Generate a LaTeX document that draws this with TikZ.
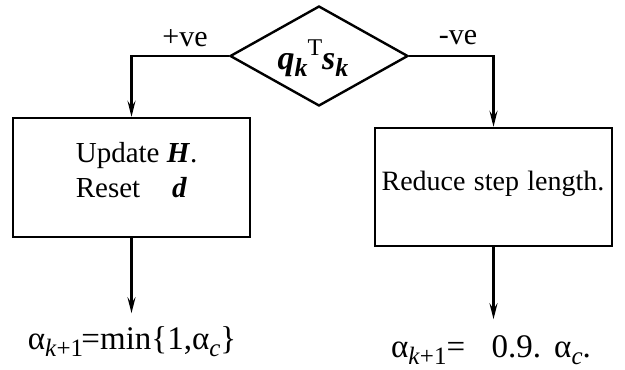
\documentclass[tikz,border=0pt]{standalone}
\usepackage{fontspec}
\setmainfont{Liberation Serif}
\usetikzlibrary{shapes.geometric,arrows.meta}
\newcommand{\bi}[1]{\textbf{\textit{#1}}}
\newcommand{\lowr}[2]{\raisebox{-0.45ex}{\fontsize{#1}{#1}\selectfont #2}}
\newcommand{\highr}[2]{\raisebox{0.9ex}{\fontsize{#1}{#1}\selectfont #2}}
\begin{document}
\begin{tikzpicture}[x=0.5pt,y=-0.5pt,
  line width=1.2pt,
  every node/.style={font=\fontsize{14.5}{17.5}\selectfont},
  big/.style={font=\fontsize{16.5}{19}\selectfont},
  lab/.style={font=\fontsize{15}{17}\selectfont},
  arr/.style={-{Stealth[length=8pt,width=4pt,inset=3pt]}},
  boxst/.style={draw,rectangle,minimum width=118.5pt,inner sep=0pt},
  dec/.style={draw,diamond,aspect=1.78,minimum width=89pt,minimum height=50pt,inner sep=0pt}]
\useasboundingbox (0,0) rectangle (625,369);
\node[dec] (d) at (319,56) {};
\node[font=\fontsize{17}{19}\selectfont] (dt) at (313,58) {\bi{q}\lowr{13}{\bi{k}}\highr{12}{T}\bi{s}\lowr{13}{\bi{k}}};
\node[lab] (pl) at (185,38) {+ve};
\node[lab] (mi) at (458,38) {-ve};
\node[boxst,minimum height=59.5pt] (lb) at (131.5,177.5) {};
\node[align=left,anchor=west] (lbt) at (68,170) {Update \bi{H}.\\Reset\hspace{1.1em}\bi{d}};
\node[boxst,minimum height=59pt] (rb) at (493.5,187) {};
\node[font=\fontsize{14}{17}\selectfont] (rbt) at (493,184) {Reduce\hspace{0.3em}step\hspace{0.3em}length.};
\node[big] (lt) at (132,342) {α\lowr{12.5}{\textit{k}+1}\hspace{-0.05em}=min\{1,α\lowr{12.5}{\textit{c}}\}};
\node[big] (rt) at (491,350) {α\lowr{12.5}{\textit{k}+1}=\hspace{0.8em}0.9.\hspace{0.4em}α\lowr{12.5}{\textit{c}}.};
\draw[arr] (d.west) -| (lb.north);
\draw[arr] (d.east) -| (rb.north);
\draw[arr] (lb.south) -- ++(0,75) coordinate (la);
\draw[arr] (rb.south) -- ++(0,72) coordinate (ra);
\end{tikzpicture}
\end{document}
